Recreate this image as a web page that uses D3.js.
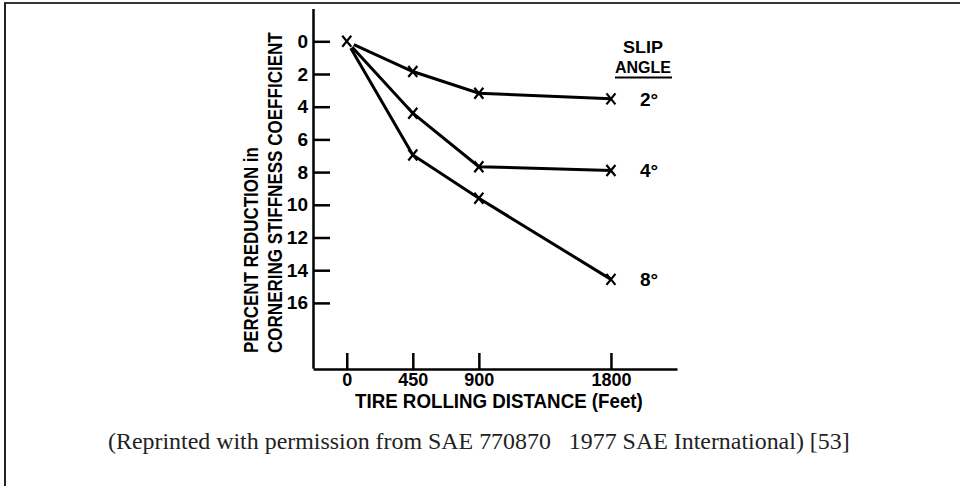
<!DOCTYPE html>
<html>
<head>
<meta charset="utf-8">
<script src="https://cdn.jsdelivr.net/npm/d3@7"></script>
<style>
  html, body { margin: 0; padding: 0; background: #fff; }
  svg { display: block; }
</style>
</head>
<body>
<svg id="chart" width="960" height="486"></svg>
<script>
// ---- data ----
const distances = [0, 450, 900, 1800];
const slipAngles = ["2°", "4°", "8°"];
const reduction2 = [0, 1.85, 3.18, 3.52];
const reduction4 = [0, 4.4, 7.67, 7.9];
const reduction8 = [0, 6.95, 9.6, 14.56];
const yTicks = [0, 2, 4, 6, 8, 10, 12, 14, 16];
const xTicks = [0, 450, 900, 1800];
const yTitle1 = "PERCENT REDUCTION in";
const yTitle2 = "CORNERING STIFFNESS COEFFICIENT";
const xTitle = "TIRE ROLLING DISTANCE (Feet)";
const legendTitle = ["SLIP", "ANGLE"];
const caption = "(Reprinted with permission from SAE 770870   1977 SAE International) [53]";

const series = [reduction2, reduction4, reduction8].map((vals, i) => ({
  label: slipAngles[i],
  points: distances.map((d, j) => ({ d, v: vals[j] }))
}));

const svg = d3.select("#chart");
const sans = "'Liberation Sans', Arial, sans-serif";

// condensed lettering: squeeze a text horizontally so it spans the target length
function condense(g, str, target, fs, rotate) {
  const t = g.append("text").attr("font-family", sans).attr("font-weight", "bold")
    .attr("font-size", fs).attr("fill", "#000").text(str);
  const len = t.node().getComputedTextLength();
  const k = len > 0 ? target / len : 1;
  t.attr("transform", (rotate ? "rotate(-90) " : "") + `scale(${k.toFixed(4)},1)`);
  return t;
}

// frame
svg.append("line").attr("x1", 4).attr("x2", 960).attr("y1", 3).attr("y2", 3)
  .attr("stroke", "#333").attr("stroke-width", 2);
svg.append("line").attr("x1", 5).attr("x2", 5).attr("y1", 3).attr("y2", 486)
  .attr("stroke", "#222").attr("stroke-width", 2);

// scales
const x = d3.scaleLinear().domain([-230, 2250]).range([313, 677]);
const y = d3.scaleLinear().domain([-2, 20]).range([8.6, 368.3]);

// y axis
const gy = svg.append("g").attr("transform", "translate(313,0)")
  .call(d3.axisLeft(y).tickValues(yTicks).tickFormat(d3.format("d"))
    .tickSize(-17).tickSizeOuter(0).tickPadding(5));
gy.select(".domain").attr("stroke", "#000").attr("stroke-width", 2.5);
gy.selectAll(".tick line").attr("stroke", "#000").attr("stroke-width", 2.5);
gy.selectAll(".tick text").attr("font-family", sans).attr("font-weight", "bold")
  .attr("font-size", 19).attr("fill", "#000");

// x axis
const gx = svg.append("g").attr("transform", "translate(0,369)")
  .call(d3.axisBottom(x).tickValues(xTicks).tickFormat(d3.format("d"))
    .tickSize(-16).tickSizeOuter(0).tickPadding(4));
gx.select(".domain").attr("stroke", "#000").attr("stroke-width", 2.5);
gx.selectAll(".tick line").attr("stroke", "#000").attr("stroke-width", 2.5);
gx.selectAll(".tick text").attr("font-family", sans).attr("font-weight", "bold")
  .attr("font-size", 18).attr("fill", "#000");

// axis titles
condense(svg.append("g").attr("transform", "translate(258,353)"), yTitle1, 206, 21, true);
condense(svg.append("g").attr("transform", "translate(282,353)"), yTitle2, 321, 21, true);
condense(svg.append("g").attr("transform", "translate(355,408)"), xTitle, 288, 21, false);

// lines
const line = d3.line().x(p => x(p.d)).y(p => y(p.v));
svg.append("g").selectAll("path").data(series).join("path")
  .attr("d", s => line(s.points))
  .attr("fill", "none").attr("stroke", "#000").attr("stroke-width", 3);

// markers
const markerPath = "M-4.5,-5.5L4.5,5.5M4.5,-5.5L-4.5,5.5";
const allPts = series.flatMap(s => s.points.slice(1)).concat([series[0].points[0]]);
const mk = svg.append("g").selectAll("g").data(allPts).join("g")
  .attr("transform", p => `translate(${x(p.d)},${y(p.v)})`);
mk.filter(p => p.d === 0).append("circle").attr("r", 8).attr("fill", "#fff");
mk.append("path").attr("d", markerPath).attr("stroke", "#000").attr("stroke-width", 2.2)
  .attr("fill", "none");

// end labels
svg.append("g").selectAll("text").data(series).join("text")
  .attr("x", 640).attr("y", s => y(s.points[s.points.length - 1].v))
  .attr("dy", "0.36em")
  .attr("font-family", sans).attr("font-weight", "bold").attr("font-size", 19)
  .text(s => s.label);

// legend title
condense(svg.append("g").attr("transform", "translate(623,53)"), legendTitle[0], 40, 17, false);
condense(svg.append("g").attr("transform", "translate(615,73)"), legendTitle[1], 56, 17, false);
svg.append("line").attr("x1", 615).attr("x2", 672).attr("y1", 77.5).attr("y2", 77.5)
  .attr("stroke", "#000").attr("stroke-width", 2);

// caption
const cap = svg.append("text").attr("x", 108).attr("y", 449)
  .attr("font-family", "'Liberation Serif', 'Times New Roman', serif")
  .attr("font-size", 23).attr("fill", "#222")
  .style("white-space", "pre")
  .text(caption);
const capLen = cap.node().getComputedTextLength();
if (capLen > 0) cap.attr("font-size", (23 * 742 / capLen).toFixed(2));
</script>
</body>
</html>
